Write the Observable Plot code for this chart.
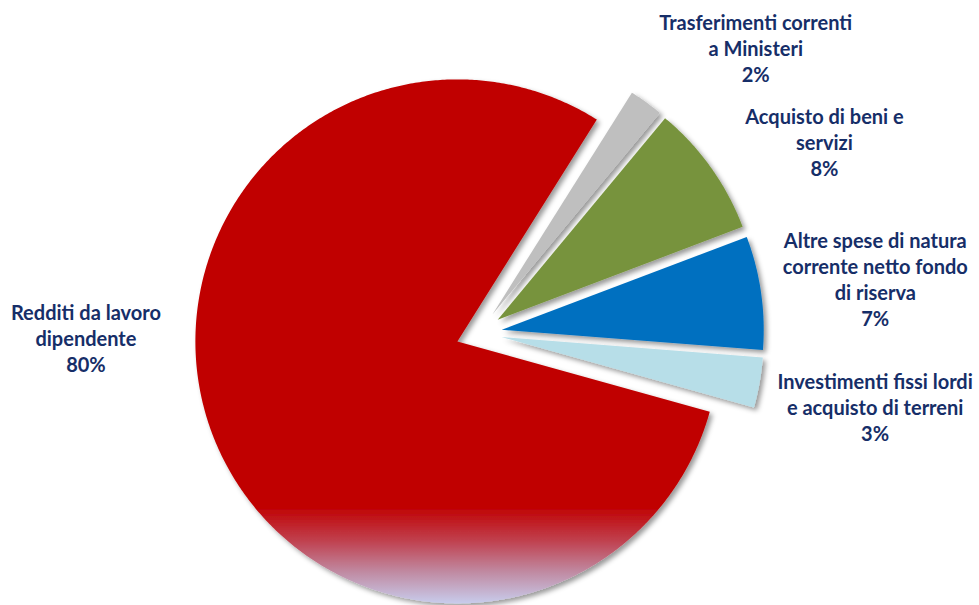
<!DOCTYPE html>
<html><head><meta charset="utf-8">
<script src="https://cdn.jsdelivr.net/npm/d3@7"></script>
<script src="https://cdn.jsdelivr.net/npm/@observablehq/plot@0.6"></script>
<style>body{margin:0;background:#fff;} #chart{width:979px;height:605px;}</style>
</head><body><div id="chart"></div>
<script>
// ---- data ----
const categories = [
  "Redditi da lavoro dipendente",
  "Trasferimenti correnti a Ministeri",
  "Acquisto di beni e servizi",
  "Altre spese di natura corrente netto fondo di riserva",
  "Investimenti fissi lordi e acquisto di terreni"
];
const values = [79.6, 2.1, 8.2, 7.0, 3.1];
const labelLines = [
  ["Redditi da lavoro", "dipendente"],
  ["Trasferimenti correnti", "a Ministeri"],
  ["Acquisto di beni e", "servizi"],
  ["Altre spese di natura", "corrente netto fondo", "di riserva"],
  ["Investimenti fissi lordi", "e acquisto di terreni"]
];

// ---- styles / layout ----
const colors = ["url(#redFade)", "#BFBFBF", "#77933C", "#0070C0", "#B7DEE8"];
const W = 979, H = 605;
const R_PX = 262, CX = 478.4, CY = 332.6;
const START_DEG = 105.6;
const EXPLODE = 0.088;
const labelPlacement = [
  {angle: 269.3, dist: 1.50},
  {angle: 44.1, dist: 1.518},
  {angle: 61.0, dist: 1.508},
  {angle: 82.2, dist: 1.527},
  {angle: 100.5, dist: 1.538}
];
const FONT = 20;

const rad = Math.PI / 180;
const pie = d3.pie().sort(null)
  .startAngle(START_DEG * rad)
  .endAngle(START_DEG * rad + 2 * Math.PI);
const arcs = pie(values);

const slices = arcs.map((a, i) => {
  const mid = (a.startAngle + a.endAngle) / 2;
  const ox = EXPLODE * Math.sin(mid), oy = EXPLODE * Math.cos(mid);
  const n = Math.max(4, Math.ceil((a.endAngle - a.startAngle) / (0.5 * rad)));
  const pts = [{x: ox, y: oy}];
  for (let k = 0; k <= n; ++k) {
    const t = a.startAngle + (a.endAngle - a.startAngle) * k / n;
    pts.push({x: ox + Math.sin(t), y: oy + Math.cos(t)});
  }
  pts.push({x: ox, y: oy});
  return {name: categories[i], pts};
});

const labels = values.map((v, i) => {
  const p = labelPlacement[i];
  return {
    x: p.dist * Math.sin(p.angle * rad),
    y: p.dist * Math.cos(p.angle * rad),
    text: [...labelLines[i], Math.round(v) + "%"].join("\n")
  };
});

const chart = Plot.plot({
  width: W, height: H, margin: 0,
  x: {domain: [-CX / R_PX, (W - CX) / R_PX], axis: null},
  y: {domain: [-(H - CY) / R_PX, CY / R_PX], axis: null},
  style: {fontFamily: "Lato", background: "white", overflow: "visible"},
  marks: [
    ...slices.map((s, i) => Plot.line(s.pts, {x: "x", y: "y", fill: colors[i], stroke: "none", curve: "linear"})),
    Plot.text(labels, {
      x: "x", y: "y", text: "text",
      textAnchor: "middle", lineAnchor: "middle",
      lineHeight: 26 / FONT, fontSize: FONT, fontWeight: "bold",
      fill: "#162E68", fontFamily: "Lato"
    })
  ]
});

d3.select(chart).insert("defs", ":first-child").html(
  `<linearGradient id="redFade" x1="0" y1="0" x2="0" y2="1">
     <stop offset="0" stop-color="#C00000"/>
     <stop offset="0.815" stop-color="#C00000"/>
     <stop offset="0.88" stop-color="#C0404E"/>
     <stop offset="0.94" stop-color="#C08AA2"/>
     <stop offset="1" stop-color="#C8CCEC"/>
   </linearGradient>
   <filter id="shadow" x="-20%" y="-20%" width="140%" height="140%">
     <feDropShadow dx="3" dy="3" stdDeviation="2.5" flood-color="#000" flood-opacity="0.4"/>
   </filter>`
);
d3.select(chart).selectAll('g[aria-label="line"]').attr("filter", "url(#shadow)");

document.getElementById("chart").appendChild(chart);
</script>
</body></html>
